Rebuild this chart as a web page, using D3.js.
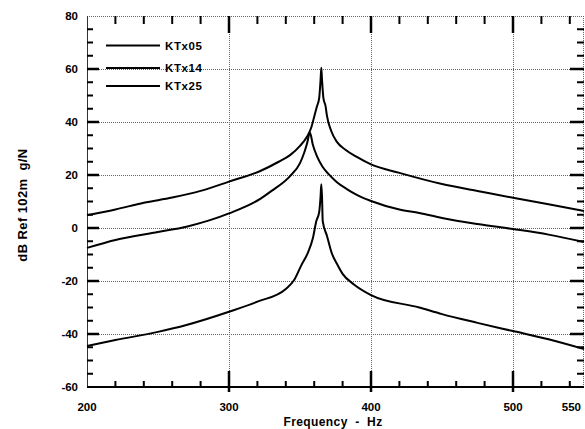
<!DOCTYPE html>
<html>
<head>
<meta charset="utf-8">
<script src="https://cdn.jsdelivr.net/npm/d3@7"></script>
<style>
  body { margin: 0; background: #fff; }
  svg { display: block; font-family: "Liberation Sans", Arial, sans-serif; }
  .grid { stroke: #666; stroke-width: 1; stroke-dasharray: 1,1; fill: none; }
  .curve { fill: none; stroke: #000; stroke-width: 2; stroke-linejoin: round; }
  .tick-lab { font-size: 11.5px; font-weight: bold; fill: #000; }
</style>
</head>
<body>
<svg id="viz-container" width="585" height="429"></svg>
<script>
// series names
var seriesNames = ["KTx05", "KTx14", "KTx25"];

// KTx05
var ktx05Freq = [200, 220, 240, 260, 280, 300, 322, 335, 343, 350, 355, 358, 360, 362, 363.5, 364.5, 365, 365.5, 366.5, 368, 369, 372, 376, 382, 390, 400, 420, 450, 475, 500, 525, 550];
var ktx05Db   = [4.8, 7, 9.5, 11.5, 14, 17.5, 21.5, 25, 27.5, 31, 34.5, 38, 42, 46, 49, 56, 60.5, 56, 49, 46, 42.3, 36.6, 32.5, 29.5, 26.8, 24, 20.8, 16.6, 14, 11.4, 9, 6.4];

// KTx14
var ktx14Freq = [200, 220, 250, 270, 300, 322, 330, 343, 350, 353, 355, 357, 359, 362, 366, 370, 376, 383, 390, 400, 420, 434, 450, 475, 500, 525, 550];
var ktx14Db   = [-7.5, -4.5, -1.5, 0.5, 5.5, 11, 14, 19.6, 24.5, 28.5, 32, 36, 31.5, 27, 23, 20.4, 17.3, 14.7, 12.5, 10.2, 7, 5.7, 3.8, 1.5, -0.4, -2.5, -5.3];

// KTx25
var ktx25Freq = [200, 220, 250, 270, 300, 320, 340, 346, 351, 355.5, 359, 361.5, 363.5, 364.5, 365, 365.5, 366, 369, 372.3, 376, 380, 388, 400, 434, 450, 475, 500, 525, 550];
var ktx25Db   = [-44.5, -42.3, -39.2, -36.6, -31.6, -27.8, -23, -19.5, -14, -9.4, -4, 2.6, 6, 12, 16.5, 12, 2.6, -3, -9.4, -13.5, -17.3, -21.3, -25.3, -30, -32.5, -35.8, -38.9, -42, -45.7];

// tick values
var xMajorTicks = [300, 400, 500];
var xMinorTicks = [220, 240, 260, 280, 320, 340, 360, 380, 420, 440, 460, 480, 520, 540];
var xTickLabels = [200, 300, 400, 500, 550];
var yMajorTicks = [60, 40, 20, 0, -20, -40];
var yTickLabels = [80, 60, 40, 20, 0, -20, -40, -60];

var width = 585
  , height = 429
  , margin = {top: 16, right: 1, bottom: 42, left: 87};

var svg = d3.select("#viz-container");

var x = d3.scaleLinear()
  .domain([200, 550])
  .range([margin.left, width - margin.right]);

var y = d3.scaleLinear()
  .domain([-60, 80])
  .range([height - margin.bottom, margin.top]);

var x0 = x.range()[0], x1 = x.range()[1]
  , y0 = y.range()[0], y1 = y.range()[1];

var yMinorTicks = d3.range(-55, 80, 5).filter(d => yMajorTicks.indexOf(d) < 0);

// dotted grid
var grid = svg.append("g").attr("id", "grid");
grid.selectAll(".hgrid")
  .data(yMajorTicks)
 .enter().append("line")
  .attr("class", "grid")
  .attr("x1", x0).attr("x2", x1)
  .attr("y1", d => y(d) + 0.5).attr("y2", d => y(d) + 0.5);
grid.selectAll(".vgrid")
  .data(xMajorTicks)
 .enter().append("line")
  .attr("class", "grid")
  .attr("x1", d => x(d) + 0.5).attr("x2", d => x(d) + 0.5)
  .attr("y1", y1).attr("y2", y0);
// top + right border are dotted too
grid.append("line").attr("class", "grid")
  .attr("x1", x0).attr("x2", x1).attr("y1", y1 + 0.5).attr("y2", y1 + 0.5);
grid.append("line").attr("class", "grid")
  .attr("x1", x1 - 0.5).attr("x2", x1 - 0.5).attr("y1", y1).attr("y2", y0);

// frame: left + bottom
svg.append("line")
  .attr("x1", x0 + 0.5).attr("x2", x0 + 0.5).attr("y1", y1).attr("y2", y0)
  .attr("stroke", "#333").attr("stroke-width", 1);
svg.append("line")
  .attr("x1", x0).attr("x2", x1).attr("y1", y0).attr("y2", y0)
  .attr("stroke", "#000").attr("stroke-width", 2);

// ticks
var ticks = svg.append("g").attr("id", "ticks").attr("stroke", "#000");
function tickLines(data, cls, fn, w) {
  ticks.selectAll("." + cls)
    .data(data)
   .enter().append("line")
    .attr("class", cls)
    .attr("stroke-width", w)
    .each(function(d) {
      var p = fn(d);
      d3.select(this).attr("x1", p[0]).attr("y1", p[1]).attr("x2", p[2]).attr("y2", p[3]);
    });
}
// left / right
tickLines(yMajorTicks, "ylmaj", d => [x0, y(d), x0 + 12, y(d)], 2.5);
tickLines(yMinorTicks, "ylmin", d => [x0, y(d), x0 + 6, y(d)], 2);
tickLines(yMajorTicks, "yrmaj", d => [x1, y(d), x1 - 14, y(d)], 2.5);
tickLines(yMinorTicks, "yrmin", d => [x1, y(d), x1 - 7, y(d)], 2);
// bottom / top
tickLines(xMajorTicks, "xbmaj", d => [x(d), y0 + 5, x(d), y0 - 16], 2.5);
tickLines(xMinorTicks, "xbmin", d => [x(d), y0, x(d), y0 - 6], 2);
tickLines(xMajorTicks, "xtmaj", d => [x(d), y1, x(d), y1 + 17], 2.5);
tickLines(xMinorTicks, "xtmin", d => [x(d), y1, x(d), y1 + 8], 2);

// tick labels
svg.append("g").selectAll("text")
  .data(yTickLabels)
 .enter().append("text")
  .attr("class", "tick-lab")
  .attr("x", x0 - 9)
  .attr("y", d => y(d))
  .attr("dy", "0.36em")
  .attr("text-anchor", "end")
  .text(d => String(d));

svg.append("g").selectAll("text")
  .data(xTickLabels)
 .enter().append("text")
  .attr("class", "tick-lab")
  .attr("x", d => d === 550 ? x(d) - 3 : x(d))
  .attr("y", y0 + 24)
  .attr("text-anchor", d => d === 550 ? "end" : "middle")
  .text(d => String(d));

// axis titles
svg.append("text")
  .attr("x", 333)
  .attr("y", 426)
  .attr("text-anchor", "middle")
  .style("font-size", "12px")
  .style("font-weight", "bold")
  .style("letter-spacing", "0.4px")
  .style("white-space", "pre")
  .text("Frequency  -  Hz");

svg.append("text")
  .attr("transform", "translate(27,205) rotate(-90)")
  .attr("text-anchor", "middle")
  .style("font-size", "13px")
  .style("font-weight", "bold")
  .style("letter-spacing", "0.4px")
  .style("white-space", "pre")
  .text("dB Ref 102m  g/N");

// curves
var line = d3.line()
  .curve(d3.curveMonotoneX)
  .x(d => x(d[0]))
  .y(d => y(d[1]));

var seriesData = [
  d3.zip(ktx05Freq, ktx05Db),
  d3.zip(ktx14Freq, ktx14Db),
  d3.zip(ktx25Freq, ktx25Db)
];

svg.append("g")
  .attr("id", "curves")
  .selectAll(".curve")
  .data(seriesData)
 .enter().append("path")
  .attr("class", "curve")
  .attr("d", line);

// legend
var legendY = [45.5, 68, 86];
var legend = svg.append("g").attr("id", "legend")
  .selectAll("g")
  .data(seriesNames)
 .enter().append("g")
  .attr("transform", (d, i) => "translate(106," + legendY[i] + ")");
legend.append("line")
  .attr("x1", 0).attr("x2", 54)
  .attr("stroke", "#000").attr("stroke-width", 2);
legend.append("text")
  .attr("x", 59)
  .attr("dy", "0.36em")
  .style("font-size", "11.5px")
  .style("font-weight", "bold")
  .style("letter-spacing", "0.6px")
  .text(d => d);
</script>
</body>
</html>
